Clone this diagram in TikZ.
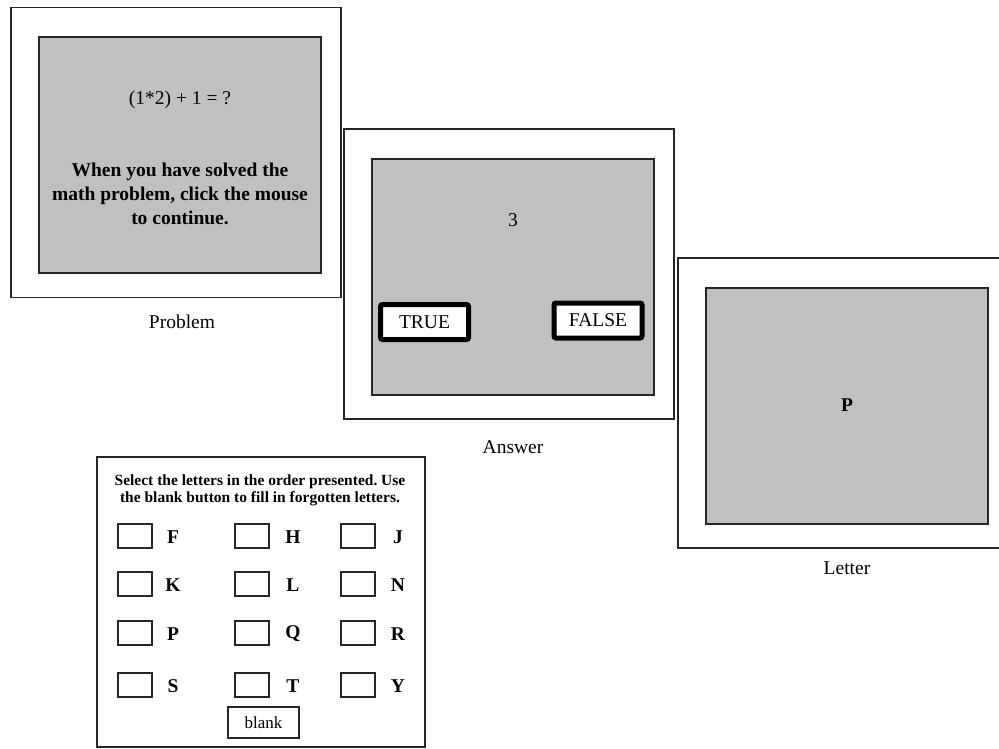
\documentclass[tikz,border=0pt]{standalone}
\usepackage{fontspec}
\setmainfont{Liberation Serif}
\frenchspacing
\definecolor{screengray}{RGB}{192,192,192}
\usetikzlibrary{positioning}

\begin{document}
\begin{tikzpicture}[
  x=1pt, y=-1pt,
  frame/.style={draw=black!85, line width=1.2pt, fill=white, minimum width=330pt, minimum height=290pt, inner sep=0pt},
  screen/.style={draw=black!85, line width=1.2pt, fill=screengray, minimum width=282pt, minimum height=236pt, inner sep=0pt},
  txt/.style={font=\fontsize{19.5}{24}\selectfont, align=center, inner sep=0pt},
  btxt/.style={txt, font=\fontsize{19.5}{24}\selectfont\bfseries},
  tfbutton/.style={txt, draw=black, line width=5pt, rounded corners=2pt, fill=white, minimum width=88pt, minimum height=35pt},
  chk/.style={draw=black!85, line width=1.1pt, minimum width=34pt, minimum height=24pt, inner sep=0pt},
  recall/.style={draw=black!85, line width=1.2pt, fill=white, minimum width=328pt, minimum height=290pt, inner sep=0pt}
]
\useasboundingbox (0,0) rectangle (999,748);

\node[frame] (probframe) at (176,152.5) {};
\node[screen] (probscreen) at (180,155) {};
\node[txt] (eq) at (180,100) {(1*2) + 1 = ?};
\node[btxt] (instr) at (180,194) {When you have solved the\\math problem, click the mouse\\to continue.};
\node[txt] (problab) at (182,322) {Problem};

\node[frame] (ansframe) at (509,274) {};
\node[screen] (ansscreen) at (513,277) {};
\node[txt] (answer) at (513,220) {3};
\node[tfbutton] (true) at (424.5,322) {TRUE};
\node[tfbutton] (false) at (598,320.5) {FALSE};
\node[txt] (anslab) at (513,447) {Answer};

\node[frame] (letframe) at (843,403) {};
\node[screen] (letscreen) at (847,406) {};
\node[btxt] (shown) at (847,405) {P};
\node[txt] (letlab) at (847,568) {Letter};

\node[recall] (recframe) at (261,602) {};
\node[inner sep=0pt, align=center, font=\fontsize{15.5}{17}\selectfont\bfseries] (rectitle) at (260,490)
  {Select the letters in the order presented. Use\\the blank button to fill in forgotten letters.};
\foreach \bx/\lx/\y/\l in {135/173/536/F, 252/293/536/H, 358/398/536/J,
                           135/173/584/K, 252/293/584/L, 358/398/584/N,
                           135/173/633/P, 252/293/633/Q, 358/398/633/R,
                           135/173/685/S, 252/293/685/T, 358/398/685/Y} {
  \node[chk] (box\l) at (\bx,\y) {};
  \node[btxt] (let\l) at (\lx,\y+1) {\l};
}
\node[chk, minimum width=71pt, minimum height=31pt, font=\fontsize{17}{20}\selectfont] (blank) at (263.5,722.5) {blank};
\end{tikzpicture}
\end{document}
